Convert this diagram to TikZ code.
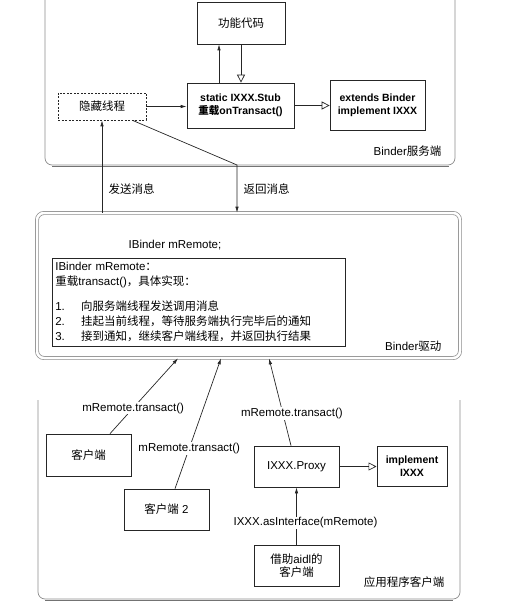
\documentclass[tikz,border=0pt]{standalone}
\usepackage{fontspec}
\setmainfont{Liberation Sans}
\newfontfamily\zh{Noto Sans CJK SC}
\newcommand{\cn}[1]{{\zh #1}}
\usetikzlibrary{arrows.meta}

\begin{document}
\begin{tikzpicture}[x=1pt,y=-1pt,
  every node/.style={font=\fontsize{11.5}{13.5}\selectfont},
  box/.style={draw=black!85, line width=0.7pt, minimum width=85pt, minimum height=41pt, align=center, inner sep=2pt},
  bbox/.style={box, font=\fontsize{10.5}{13}\selectfont\bfseries},
  panel/.style={draw=black!45, line width=0.7pt, rounded corners=7pt},
  panelshadow/.style={draw=black!55, line width=1.4pt},
  lbl/.style={fill=white, inner sep=1pt},
  fill tip/.style={-{Latex[length=6pt,width=3.5pt]}},
  open tip/.style={-{Triangle[open,length=8pt,width=8pt]}},
  conn/.style={draw=black!85, line width=0.7pt}]
    \useasboundingbox (0,0) rectangle (520,604);
    % Binder server side
    \draw[panelshadow] (52,166.5) -- (449,166.5);
    \draw[panel] (45,-10) -- (45,165) -- (455,165) -- (455,-10);
    \node[box, dash pattern=on 2pt off 1.5pt, minimum width=88pt, minimum height=27pt] (hidden) at (102,106.5) {\cn{隐藏线程}};
    \node[box, minimum width=88pt, minimum height=42pt] (code) at (241,23) {\cn{功能代码}};
    \node[bbox, minimum width=107pt, minimum height=45pt] (stub) at (240.5,105.5) {static IXXX.Stub\\\cn{重载}onTransact()};
    \node[bbox, minimum width=95pt, minimum height=50pt] (extends) at (377.5,105) {extends Binder\\implement IXXX};
    \node[anchor=base east] (serverlbl) at (445,156) {Binder\cn{服务端}};
    \draw[conn, fill tip] (hidden.east) -- (hidden.east -| stub.west);
    \draw[conn, fill tip] ([xshift=-21.5pt]stub.north) -- ([xshift=-21.5pt]stub.north |- code.south);
    \draw[conn, open tip] (code.south) -- (code.south |- stub.north);
    \draw[conn, open tip] (stub.east) -- (stub.east -| extends.west);
    % Binder driver
    \node[panel, double=white, double distance=2.5pt, minimum width=423pt, minimum height=145pt] (driver) at (248.5,285.5) {};
    \node (remote) at (175,245) {IBinder mRemote;};
    \node[draw=black!85, line width=0.7pt, anchor=north west, text width=287pt, minimum height=88pt, inner sep=3pt, align=left, font=\fontsize{11.5}{15}\selectfont] (impl) at (52,258) {IBinder mRemote\cn{：}\\
      \cn{重载}transact()\cn{，具体实现：}\\[10pt]
      1.\hspace{1.4em}\cn{向服务端线程发送调用消息}\\
      2.\hspace{1.4em}\cn{挂起当前线程，等待服务端执行完毕后的通知}\\
      3.\hspace{1.4em}\cn{接到通知，继续客户端线程，并返回执行结果}};
    \node[anchor=base east] (driverlbl) at (445,350) {Binder\cn{驱动}};
    \coordinate (bend) at (237,165);
    \draw[conn, fill tip] (hidden.south |- driver.north) -- node[right, pos=0.25, xshift=3pt]{\cn{发送消息}} (hidden.south);
    \draw[conn, fill tip] ([xshift=30.5pt]hidden.south) -- (bend) -- node[right, pos=0.5, xshift=3pt]{\cn{返回消息}} (bend |- driver.north);
    % application client
    \draw[panelshadow] (45,600.5) -- (453,600.5);
    \draw[panel] (38,400) -- (38,599) -- (460,599) -- (460,400);
    \node[box, minimum height=42pt] (client) at (88.5,455) {\cn{客户端}};
    \node[box] (clienttwo) at (166.5,509.5) {\cn{客户端} 2};
    \node[box] (proxy) at (296.5,466.5) {IXXX.Proxy};
    \node[bbox, minimum width=70pt, minimum height=40pt, line width=1pt] (iface) at (412,466) {implement\\IXXX};
    \node[box] (aidl) at (296.5,565.5) {\cn{借助}aidl\cn{的}\\\cn{客户端}};
    \node[anchor=base east] (applbl) at (448,586) {\cn{应用程序客户端}};
    \draw[conn, fill tip] ([xshift=21.5pt]client.north) -- node[lbl, pos=0.34]{mRemote.transact()} ([xshift=-70.5pt]driver.south);
    \draw[conn, fill tip] ([xshift=8.5pt]clienttwo.north) -- node[lbl, pos=0.31]{mRemote.transact()} ([xshift=-27.5pt]driver.south);
    \draw[conn, fill tip] ([xshift=-5.5pt]proxy.north) -- node[lbl, pos=0.37, xshift=9pt]{mRemote.transact()} ([xshift=20.5pt]driver.south);
    \draw[conn, open tip] (proxy.east) -- (proxy.east -| iface.west);
    \draw[conn, fill tip] (aidl.north) -- node[lbl, pos=0.38, xshift=9pt]{IXXX.asInterface(mRemote)} (proxy.south);
\end{tikzpicture}
\end{document}
